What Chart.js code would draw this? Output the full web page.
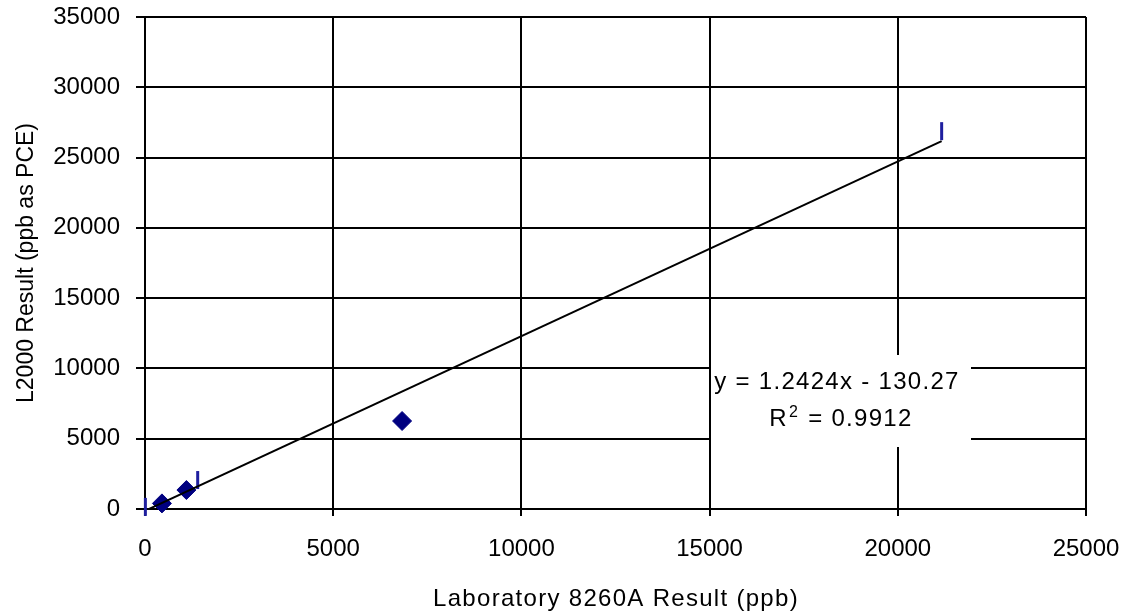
<!DOCTYPE html>
<html>
<head>
<meta charset="utf-8">
<script src="https://cdn.jsdelivr.net/npm/chart.js@4.4.1/dist/chart.umd.min.js"></script>
<style>
  html, body { margin: 0; padding: 0; background: #fff; }
  #wrap { width: 1128px; height: 616px; }
</style>
</head>
<body>
<div id="wrap"><canvas id="chart"></canvas></div>
<script>
// diamond markers
const labResults = [450, 1100, 6830]
const l2000Results = [400, 1350, 6260]
// dash markers
const labResultsDash = [10, 1400, 21165]
const l2000ResultsDash = [150, 2060, 26880]

// linear trendline as printed on the chart
const trendSlope = 1.2424
const trendIntercept = -130.27
const trendLabel = 'y = 1.2424x - 130.27'
const rSquaredValue = '0.9912'

const xTicks = [0, 5000, 10000, 15000, 20000, 25000]
const yTicks = [0, 5000, 10000, 15000, 20000, 25000, 30000, 35000]

const xTitle = 'Laboratory 8260A Result (ppb)'
const yTitle = 'L2000 Result (ppb as PCE)'

const FONT = '"Liberation Sans", Arial, sans-serif'

const toPoints = (xs, ys) => xs.map((x, i) => ({ x: x, y: ys[i] }))

const allX = labResults.concat(labResultsDash)
const xMin = Math.min(...allX)
const xMax = Math.max(...allX)
const trendPoints = [xMin, xMax].map(x => ({ x: x, y: trendSlope * x + trendIntercept }))

// white box with the regression equation, plus the x axis title
const labels = {
  id: 'labels',
  afterDatasetsDraw(chart) {
    const ctx = chart.ctx
    ctx.save()
    ctx.fillStyle = '#fff'
    ctx.fillRect(711, 355, 260, 92)

    ctx.fillStyle = '#000'
    ctx.letterSpacing = '1.3px'
    ctx.font = '24px ' + FONT
    ctx.textBaseline = 'alphabetic'
    ctx.textAlign = 'center'
    ctx.fillText(trendLabel, 837, 389)

    // R² line
    ctx.textAlign = 'left'
    const rest = ' = ' + rSquaredValue
    ctx.font = '24px ' + FONT
    const wR = ctx.measureText('R').width
    const wRest = ctx.measureText(rest).width
    ctx.font = '16px ' + FONT
    const wSup = ctx.measureText('2').width
    let x = 841 - (wR + wSup + wRest + 2) / 2
    ctx.font = '24px ' + FONT
    ctx.fillText('R', x, 426)
    x += wR + 1
    ctx.font = '16px ' + FONT
    ctx.fillText('2', x, 417)
    x += wSup + 1
    ctx.font = '24px ' + FONT
    ctx.fillText(rest, x, 426)
    ctx.restore()
  },
  afterDraw(chart) {
    const ctx = chart.ctx
    ctx.save()
    ctx.fillStyle = '#000'
    ctx.letterSpacing = '1.3px'
    ctx.font = '24px ' + FONT
    ctx.textAlign = 'center'
    ctx.textBaseline = 'middle'
    ctx.fillText(xTitle, 616, 599)
    ctx.restore()
  }
}

new Chart(document.getElementById('chart'), {
  type: 'scatter',
  data: {
    datasets: [
      {
        label: 'Trendline',
        data: trendPoints,
        showLine: true,
        borderColor: '#000',
        borderWidth: 2,
        pointRadius: 0,
        order: 0
      },
      {
        label: 'L2000',
        data: toPoints(labResults, l2000Results),
        pointStyle: 'rectRot',
        pointRadius: 9.5,
        backgroundColor: '#000080',
        borderColor: '#000080',
        borderWidth: 1,
        clip: false,
        order: 1
      },
      {
        label: 'L2000 (dash)',
        data: toPoints(labResultsDash, l2000ResultsDash),
        pointStyle: 'line',
        pointRotation: 90,
        pointRadius: 9,
        borderColor: '#1f1f9f',
        borderWidth: 3,
        clip: false,
        order: 1
      }
    ]
  },
  options: {
    responsive: true,
    maintainAspectRatio: false,
    animation: false,
    layout: {
      padding: { top: 17, right: 42, left: 0, bottom: 0 }
    },
    plugins: {
      legend: { display: false },
      tooltip: { enabled: false }
    },
    scales: {
      x: {
        type: 'linear',
        min: 0,
        max: 25000,
        afterBuildTicks: scale => { scale.ticks = xTicks.map(v => ({ value: v })) },
        afterFit: scale => {
          scale.height = 107
          scale.paddingLeft = 0
          scale.paddingRight = 0
        },
        grid: { color: '#000', lineWidth: 2, tickLength: 7 },
        border: { color: '#000', width: 2 },
        ticks: {
          color: '#000',
          padding: 19,
          maxRotation: 0,
          font: { family: FONT, size: 24 },
          callback: v => String(v)
        }
      },
      y: {
        type: 'linear',
        min: 0,
        max: 35000,
        afterBuildTicks: scale => { scale.ticks = yTicks.map(v => ({ value: v })) },
        afterFit: scale => {
          scale.width = 145
          scale.paddingTop = 0
          scale.paddingBottom = 0
        },
        grid: { color: '#000', lineWidth: 2, tickLength: 9 },
        border: { color: '#000', width: 2 },
        ticks: {
          color: '#000',
          padding: 16,
          font: { family: FONT, size: 24 },
          callback: v => String(v)
        },
        title: {
          display: true,
          text: yTitle,
          color: '#000',
          padding: { top: 13, bottom: 0 },
          font: { family: FONT, size: 23 }
        }
      }
    }
  },
  plugins: [labels]
})
</script>
</body>
</html>
